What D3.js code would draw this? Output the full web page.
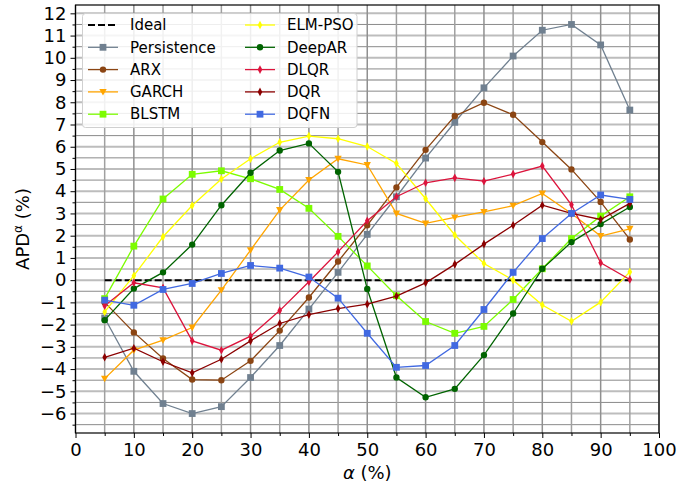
<!DOCTYPE html>
<html>
<head>
<meta charset="utf-8">
<script src="https://cdn.jsdelivr.net/npm/d3@7"></script>
<style>
  body { margin: 0; background: #fff; }
  svg { font-family: "DejaVu Sans", sans-serif; }
</style>
</head>
<body>
<div id="chart"></div>
<script>
// quantile levels (%)
var alphas = [5, 10, 15, 20, 25, 30, 35, 40, 45, 50, 55, 60, 65, 70, 75, 80, 85, 90, 95];

// APD per model (%)
var persistence = [-1.7, -4.1, -5.55, -6.0, -5.69, -4.38, -2.94, -1.3, 0.35, 2.06, 3.75, 5.49, 7.1, 8.65, 10.08, 11.24, 11.5, 10.58, 7.65];
var arx = [-1.0, -2.35, -3.52, -4.47, -4.5, -3.63, -2.27, -0.78, 0.84, 2.47, 4.17, 5.86, 7.38, 7.98, 7.44, 6.21, 4.98, 3.52, 1.83];
var garch = [-4.43, -3.15, -2.7, -2.13, -0.45, 1.35, 3.15, 4.5, 5.46, 5.18, 3.0, 2.55, 2.82, 3.07, 3.35, 3.9, 3.0, 1.98, 2.31];
var blstm = [-0.83, 1.53, 3.65, 4.76, 4.92, 4.56, 4.08, 3.23, 1.97, 0.64, -0.7, -1.86, -2.39, -2.08, -0.87, 0.51, 1.87, 2.88, 3.75];
var elmPso = [-1.43, 0.2, 1.95, 3.36, 4.55, 5.46, 6.2, 6.48, 6.36, 6.01, 5.25, 3.66, 2.03, 0.75, 0.0, -1.12, -1.85, -0.99, 0.37];
var deepar = [-1.8, -0.38, 0.35, 1.6, 3.37, 4.83, 5.83, 6.15, 4.87, -0.4, -4.38, -5.27, -4.89, -3.37, -1.5, 0.51, 1.71, 2.52, 3.29];
var dlqr = [-1.15, -0.12, -0.35, -2.73, -3.15, -2.52, -1.37, -0.07, 1.27, 2.67, 3.75, 4.38, 4.6, 4.45, 4.77, 5.13, 3.39, 0.78, 0.03];
var dqr = [-3.47, -3.06, -3.67, -4.17, -3.56, -2.73, -1.95, -1.55, -1.28, -1.08, -0.72, -0.12, 0.71, 1.62, 2.47, 3.37, 3.0, 2.73, 3.45];
var dqfn = [-0.9, -1.13, -0.42, -0.15, 0.3, 0.66, 0.54, 0.14, -0.81, -2.39, -3.92, -3.84, -2.94, -1.32, 0.35, 1.87, 3.0, 3.83, 3.63];

var xTicks = [0, 10, 20, 30, 40, 50, 60, 70, 80, 90, 100];
var yTicks = [-6, -5, -4, -3, -2, -1, 0, 1, 2, 3, 4, 5, 6, 7, 8, 9, 10, 11, 12];

var series = [
    {name: "Persistence", values: persistence, color: "#708090", marker: "square"},
    {name: "ARX", values: arx, color: "#8B4513", marker: "circle"},
    {name: "GARCH", values: garch, color: "#FFA500", marker: "tri"},
    {name: "BLSTM", values: blstm, color: "#7CFC00", marker: "square"},
    {name: "ELM-PSO", values: elmPso, color: "#FFFF00", marker: "thin"},
    {name: "DeepAR", values: deepar, color: "#006400", marker: "circle"},
    {name: "DLQR", values: dlqr, color: "#DC143C", marker: "thin"},
    {name: "DQR", values: dqr, color: "#8B0000", marker: "thin"},
    {name: "DQFN", values: dqfn, color: "#4169E1", marker: "square"}
];

var width = 680, height = 491;
var margin = {top: 5, right: 21, bottom: 58, left: 75.5};
var plotW = width - margin.left - margin.right;
var plotH = height - margin.top - margin.bottom;

var svg = d3.select("#chart").append("svg")
    .attr("width", width)
    .attr("height", height);

var x = d3.scaleLinear().domain([0, 100]).range([0, plotW]);
var y = d3.scaleLinear().domain([-6.875, 12.375]).range([plotH, 0]);

var chart = svg.append("g")
    .attr("transform", "translate(" + margin.left + "," + margin.top + ")");

// grid: major (light, thick) and minor (dark, thin)
var grid = chart.append("g").attr("class", "grid");
var yMinor = d3.range(-6.5, 12.5, 1);
var xMinor = [5, 15, 25, 35, 45, 55, 65, 75, 85, 95];

grid.selectAll("line.ymaj").data(yTicks).enter().append("line")
    .attr("x1", 0).attr("x2", plotW)
    .attr("y1", d => y(d)).attr("y2", d => y(d))
    .attr("stroke", "#bdbdbd").attr("stroke-width", 2);
grid.selectAll("line.ymin").data(yMinor).enter().append("line")
    .attr("x1", 0).attr("x2", plotW)
    .attr("y1", d => y(d)).attr("y2", d => y(d))
    .attr("stroke", "#8a8a8a").attr("stroke-width", 1);
grid.selectAll("line.xmin").data(xMinor).enter().append("line")
    .attr("y1", 0).attr("y2", plotH)
    .attr("x1", d => x(d)).attr("x2", d => x(d))
    .attr("stroke", "#a0a0a0").attr("stroke-width", 1.5);
grid.selectAll("line.xmaj").data(xTicks).enter().append("line")
    .attr("y1", 0).attr("y2", plotH)
    .attr("x1", d => x(d)).attr("x2", d => x(d))
    .attr("stroke", "#909090").attr("stroke-width", 1.5);

// ideal line
chart.append("line")
    .attr("x1", x(alphas[0])).attr("x2", x(alphas[alphas.length - 1]))
    .attr("y1", y(0)).attr("y2", y(0))
    .attr("stroke", "#000").attr("stroke-width", 2)
    .attr("stroke-dasharray", "7,3");

function markerPath(type) {
    if (type === "square") return "M-3.4,-3.4H3.4V3.4H-3.4Z";
    if (type === "circle") return d3.symbol(d3.symbolCircle, 32)();
    if (type === "tri") return "M-3.7,-3L3.7,-3L0,3.7Z";
    if (type === "thin") return "M0,-4.3L2.3,0L0,4.3L-2.3,0Z";
}

var line = d3.line()
    .x((d, i) => x(alphas[i]))
    .y(d => y(d));

series.forEach(function(s) {
    var g = chart.append("g").attr("class", "series");
    g.append("path")
        .attr("d", line(s.values))
        .attr("fill", "none")
        .attr("stroke", s.color)
        .attr("stroke-width", 1.3);
    g.selectAll("path.mk").data(s.values).enter().append("path")
        .attr("class", "mk")
        .attr("d", markerPath(s.marker))
        .attr("transform", (d, i) => "translate(" + x(alphas[i]) + "," + y(d) + ")")
        .attr("fill", s.color);
});

// axes
var xAxis = d3.axisBottom(x).tickValues(xTicks).tickSize(5).tickPadding(5);
var xAxisMinor = d3.axisBottom(x).tickValues(xMinor).tickSize(3).tickFormat("");
var yAxis = d3.axisLeft(y).tickValues(yTicks).tickSize(5).tickPadding(4)
    .tickFormat(d => d < 0 ? "\u2212" + Math.abs(d) : "" + d);
var yAxisMinor = d3.axisLeft(y).tickValues(yMinor).tickSize(3).tickFormat("");

[xAxis, xAxisMinor].forEach(function(ax) {
    chart.append("g").attr("transform", "translate(0," + plotH + ")").call(ax);
});
[yAxis, yAxisMinor].forEach(function(ax) {
    chart.append("g").call(ax);
});
chart.selectAll(".domain").remove();
chart.selectAll(".tick line").attr("stroke", "#000").attr("stroke-width", 1);
chart.selectAll(".tick text")
    .attr("font-size", 18)
    .attr("font-family", "DejaVu Sans")
    .attr("fill", "#000");

// frame
chart.append("rect")
    .attr("width", plotW).attr("height", plotH)
    .attr("fill", "none").attr("stroke", "#000").attr("stroke-width", 1.2);

// axis labels
var xl = svg.append("text")
    .attr("x", margin.left + plotW / 2)
    .attr("y", 479)
    .attr("text-anchor", "middle")
    .attr("font-size", 18);
xl.append("tspan").attr("font-style", "italic").text("α");
xl.append("tspan").text(" (%)");

var yl = svg.append("text")
    .attr("transform", "translate(29," + (margin.top + plotH / 2 + 10) + ") rotate(-90)")
    .attr("text-anchor", "middle")
    .attr("font-size", 18);
yl.append("tspan").text("APD");
yl.append("tspan").attr("font-size", 12).attr("dy", -7).text("α");
yl.append("tspan").attr("dy", 7).text(" (%)");

// legend
var legendItems = [{name: "Ideal", dash: true}].concat(series);
var legend = svg.append("g").attr("class", "legend");
legend.append("rect")
    .attr("x", 82.5).attr("y", 13.5)
    .attr("width", 274.5).attr("height", 114)
    .attr("rx", 3)
    .attr("fill", "#fff").attr("fill-opacity", 0.85)
    .attr("stroke", "#d0d0d0").attr("stroke-width", 1);

legendItems.forEach(function(it, i) {
    var col = Math.floor(i / 5), row = i % 5;
    var lx = col === 0 ? 88 : 245;
    var ly = 25 + row * 22.3;
    var g = legend.append("g").attr("transform", "translate(" + lx + "," + ly + ")");
    g.append("line").attr("x1", 0).attr("x2", 30).attr("y1", 0).attr("y2", 0)
        .attr("stroke", it.dash ? "#000" : it.color)
        .attr("stroke-width", it.dash ? 2 : 1.3)
        .attr("stroke-dasharray", it.dash ? "7,3" : null);
    if (!it.dash) {
        g.append("path").attr("d", markerPath(it.marker))
            .attr("transform", "translate(15,0)")
            .attr("fill", it.color);
    }
    g.append("text").attr("x", 42).attr("y", 0).attr("dy", "0.35em")
        .attr("font-size", 15).text(it.name);
});
</script>
</body>
</html>
